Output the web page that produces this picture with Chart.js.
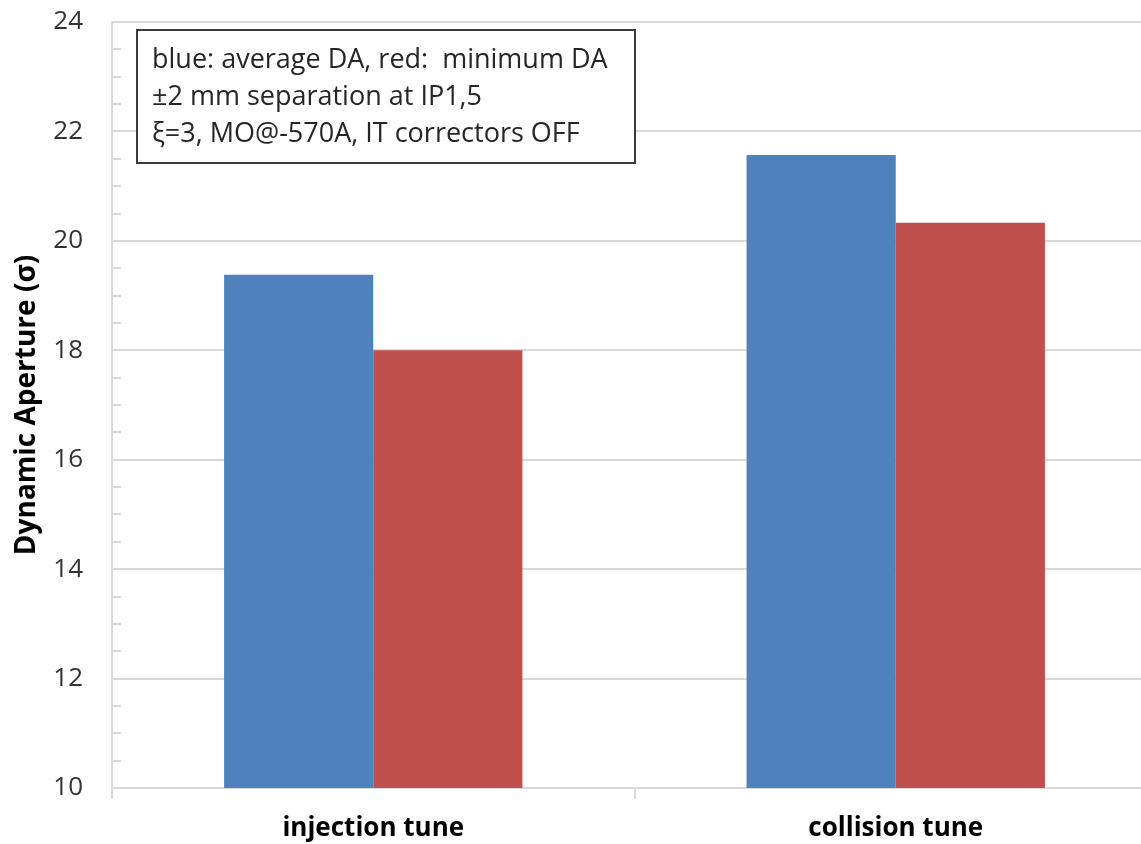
<!DOCTYPE html>
<html>
<head>
<meta charset="utf-8">
<script src="https://cdn.jsdelivr.net/npm/chart.js@4"></script>
<style>
  html, body { margin: 0; padding: 0; background: #fff; overflow: hidden; }
  #wrap { width: 1158px; height: 844px; }
</style>
</head>
<body>
<div id="wrap"><canvas id="chart" width="1158" height="844"></canvas></div>
<script>
const categories = ['injection tune', 'collision tune'];
const averageDA = [19.38, 21.57];
const minimumDA = [18.0, 20.33];
const noteLines = [
  'blue: average DA, red:  minimum DA',
  '\u00b12 mm separation at IP1,5',
  '\u03be=3, MO@-570A, IT correctors OFF',
];
const yMin = 10;
const yMax = 24;
const yStep = 2;
const minorStep = 0.5;

const FONT = '"Open Sans", Lato, sans-serif';
const GRID = '#d9d9d9';

// little inward tick marks between the labelled values
const minorTicks = {
  id: 'minorTicks',
  afterDraw(chart) {
    const { ctx } = chart;
    const y = chart.scales.y;
    ctx.save();
    ctx.strokeStyle = GRID;
    ctx.lineWidth = 2;
    for (let v = yMin; v <= yMax; v += minorStep) {
      if (v % yStep === 0) continue;
      const py = Math.round(y.getPixelForValue(v));
      ctx.beginPath();
      ctx.moveTo(y.right, py);
      ctx.lineTo(y.right + 9, py);
      ctx.stroke();
    }
    ctx.restore();
  },
};

// boxed note in the upper left of the plot
const noteBox = {
  id: 'noteBox',
  afterDraw(chart) {
    const { ctx, chartArea } = chart;
    const x = chartArea.left + 25;
    const top = chartArea.top + 8;
    const w = 498;
    const h = 133;
    ctx.save();
    ctx.fillStyle = '#fff';
    ctx.fillRect(x, top, w, h);
    ctx.strokeStyle = '#3a3a3a';
    ctx.lineWidth = 2;
    ctx.strokeRect(x, top, w, h);
    ctx.fillStyle = '#262626';
    ctx.font = '27px ' + FONT;
    ctx.textBaseline = 'middle';
    noteLines.forEach((line, i) => {
      ctx.fillText(line, x + 15, top + 30 + i * 37);
    });
    ctx.restore();
  },
};

new Chart(document.getElementById('chart'), {
  type: 'bar',
  data: {
    labels: categories,
    datasets: [{
      label: 'average DA',
      data: averageDA,
      backgroundColor: '#4f81bd',
    },
    {
      label: 'minimum DA',
      data: minimumDA,
      backgroundColor: '#c0504d',
    }],
  },
  options: {
    responsive: false,
    animation: false,
    devicePixelRatio: 1,
    layout: {
      padding: { left: 0, right: 1, top: 22, bottom: 0 },
    },
    plugins: {
      legend: { display: false },
      tooltip: { enabled: false },
    },
    datasets: {
      bar: {
        barPercentage: 1,
        categoryPercentage: 0.571,
      },
    },
    scales: {
      x: {
        offset: true,
        grid: {
          offset: true,
          drawOnChartArea: false,
          drawTicks: true,
          tickLength: 11,
          tickColor: GRID,
          lineWidth: 2,
        },
        border: { color: GRID, width: 2 },
        ticks: {
          color: '#000',
          padding: 14,
          font: { family: FONT, size: 26, weight: 'bold' },
        },
        afterFit: (scale) => { scale.height = 56; },
      },
      y: {
        min: yMin,
        max: yMax,
        grid: {
          color: GRID,
          lineWidth: 2,
          drawTicks: false,
        },
        border: { color: GRID, width: 2 },
        ticks: {
          stepSize: yStep,
          color: '#333',
          padding: 29,
          font: { family: FONT, size: 26 },
        },
        title: {
          display: true,
          text: 'Dynamic Aperture (\u03c3)',
          color: '#000',
          padding: { top: 10, bottom: 0 },
          font: { family: FONT, size: 28, weight: 'bold' },
        },
        afterFit: (scale) => {
          // the label padding would otherwise push the plot top down
          scale.width = 112;
          scale.paddingTop = 0;
          scale.paddingBottom = 0;
        },
      },
    },
  },
  plugins: [minorTicks, noteBox],
});
</script>
</body>
</html>
